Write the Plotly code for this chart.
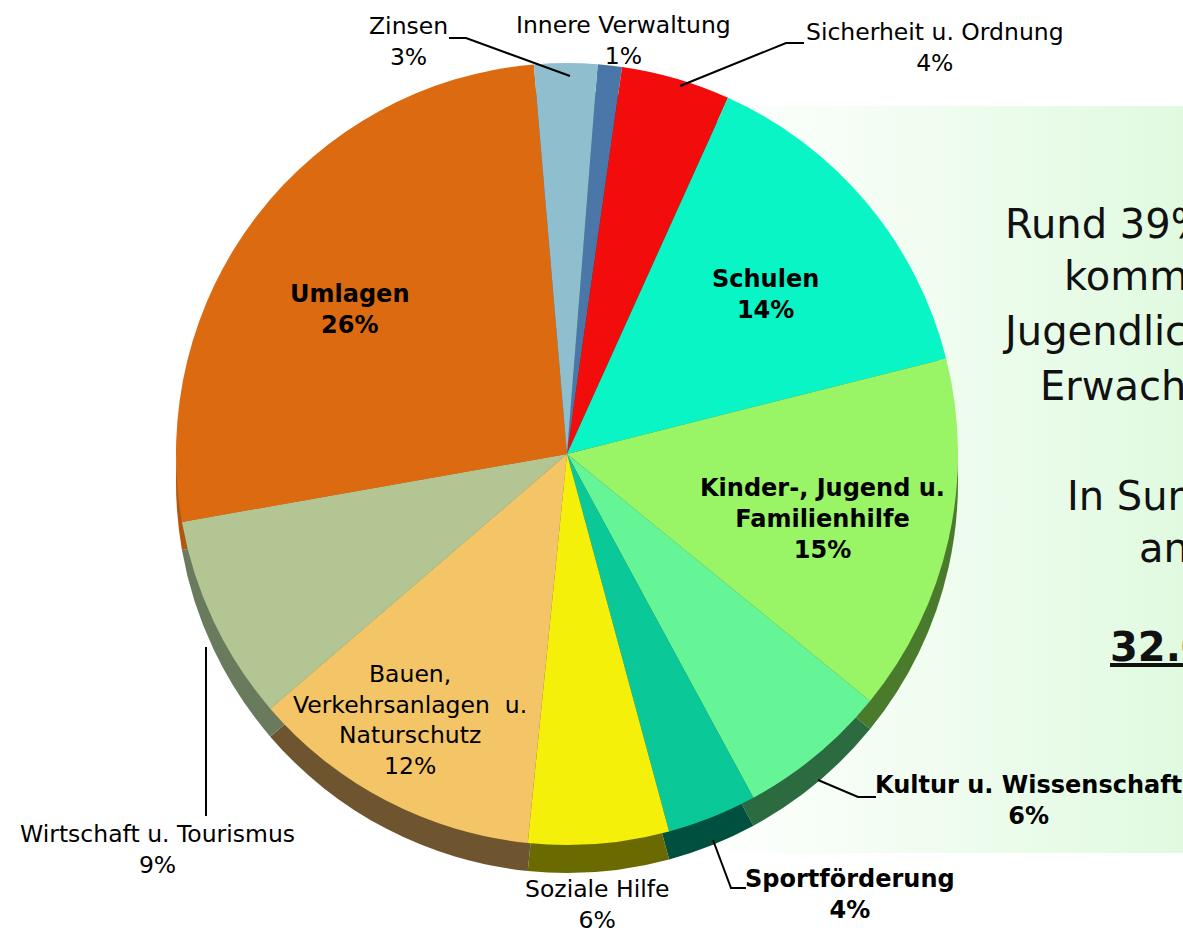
import plotly.graph_objects as go

# ---------------- data ----------------
categories = ["Innere Verwaltung", "Sicherheit u. Ordnung", "Schulen",
              "Kinder-, Jugend u. Familienhilfe", "Kultur u. Wissenschaft",
              "Sportförderung", "Soziale Hilfe",
              "Bauen, Verkehrsanlagen u. Naturschutz",
              "Wirtschaft u. Tourismus", "Umlagen", "Zinsen"]
shares = [1.0, 4.5, 14.3, 14.8, 6.2, 3.7, 5.8, 12.1, 8.5, 26.4, 2.6]
shown_pct = [1, 4, 14, 15, 6, 4, 6, 12, 9, 26, 3]
label_lines = ["Innere Verwaltung", "Sicherheit u. Ordnung", "Schulen",
               "Kinder-, Jugend u.<br>Familienhilfe", "Kultur u. Wissenschaft",
               "Sportförderung", "Soziale Hilfe",
               "Bauen,<br>Verkehrsanlagen  u.<br>Naturschutz",
               "Wirtschaft u. Tourismus", "Umlagen", "Zinsen"]
bold_label = [False, False, True, True, True, True, False, False, False, True, False]

top_colors = ["#4a77a7", "#f20c0c", "#0af5c6", "#99f466", "#66f596", "#0bc898",
              "#f4f00a", "#f4c566", "#b4c594", "#dc6a10", "#8fbecf"]
side_colors = ["#25405a", "#7a0606", "#067a62", "#4a7a2c", "#2c6a40", "#005040",
               "#6b6a00", "#6e5530", "#6a7a5c", "#b0560e", "#4a6470"]

box_lines = ["Rund 39% der Ausgaben", "kommen Kindern,", "Jugendlichen und jungen",
             "Erwachsenen zugute.", "In Summe sind das", "an die",
             "<b><u>32.000.000 €</u></b>"]

W, H = 1183, 937
cx, cy, R, depth = 567, 454, 391, 28


def dom(cx, cy):
    return dict(x=[(cx - R) / W, (cx + R) / W],
                y=[(H - cy - R) / H, (H - cy + R) / H])


fig = go.Figure()

# light-green gradient panel on the right
fig.add_trace(go.Scatter(
    x=[700, W, W, 700, 700], y=[106, 106, 853, 853, 106],
    mode="lines", fill="toself", line=dict(width=0),
    fillgradient=dict(type="horizontal",
                      colorscale=[[0, "rgba(255,255,255,1)"], [1, "#e0fae0"]]),
    hoverinfo="skip", showlegend=False))

common = dict(labels=categories, values=shares, sort=False, direction="clockwise",
              rotation=4.5, textinfo="none", hoverinfo="skip", showlegend=False)
# side (depth) of the pie
fig.add_trace(go.Pie(**common, domain=dom(cx, cy + depth),
                     marker=dict(colors=side_colors, line=dict(width=0))))
# top surface
fig.add_trace(go.Pie(**common, domain=dom(cx, cy),
                     marker=dict(colors=top_colors, line=dict(width=0))))

# ---------------- labels ----------------
label_pos = {  # centre of each label block (px)
    "Innere Verwaltung": (623, 40),
    "Sicherheit u. Ordnung": (935, 47),
    "Schulen": (765, 294),
    "Kinder-, Jugend u. Familienhilfe": (822, 519),
    "Kultur u. Wissenschaft": (1028, 800),
    "Sportförderung": (850, 894),
    "Soziale Hilfe": (597, 904),
    "Bauen, Verkehrsanlagen u. Naturschutz": (410, 720),
    "Wirtschaft u. Tourismus": (157, 849),
    "Umlagen": (349, 309),
    "Zinsen": (408, 41),
}
for cat, lab, pct, b in zip(categories, label_lines, shown_pct, bold_label):
    x, y = label_pos[cat]
    txt = f"{lab}<br>{pct}%"
    if b:
        txt = f"<b>{txt}</b>"
    fig.add_annotation(x=x, y=y, xref="x", yref="y", text=txt, showarrow=False,
                       xanchor="center", yanchor="middle", align="center",
                       font=dict(family="DejaVu Sans", size=24 if b else 23.5, color="black"))

# leader lines
leaders = [
    "M 449,38 L 466,38 L 570,76",
    "M 680,86 L 786,43 L 804,43",
    "M 206,647 L 206,816",
    "M 818,780 L 858,797 L 876,797",
    "M 713,840 L 731,888 L 746,888",
]
for p in leaders:
    fig.add_shape(type="path", path=p, xref="x", yref="y",
                  line=dict(color="black", width=2), layer="above")

# panel text (cut off at the right edge like the original)
box_pos = [(1003, 224), (1062, 276), (1000, 331), (1038, 386),
           (1065, 496), (1137, 548), (1108, 647)]
for t, (x, y) in zip(box_lines, box_pos):
    fig.add_annotation(x=x, y=y, xref="x", yref="y", text=t, showarrow=False,
                       xanchor="left", yanchor="middle", align="left",
                       font=dict(family="DejaVu Sans", size=40, color="#111111"))

fig.update_layout(
    width=W, height=H, margin=dict(l=0, r=0, t=0, b=0),
    paper_bgcolor="white", plot_bgcolor="rgba(0,0,0,0)",
    xaxis=dict(range=[0, W], visible=False, domain=[0, 1], fixedrange=True),
    yaxis=dict(range=[H, 0], visible=False, domain=[0, 1], fixedrange=True),
)

fig.write_html("out.html", config={"displayModeBar": False},
               post_script="document.body.style.margin='0';document.body.style.overflow='hidden';")
